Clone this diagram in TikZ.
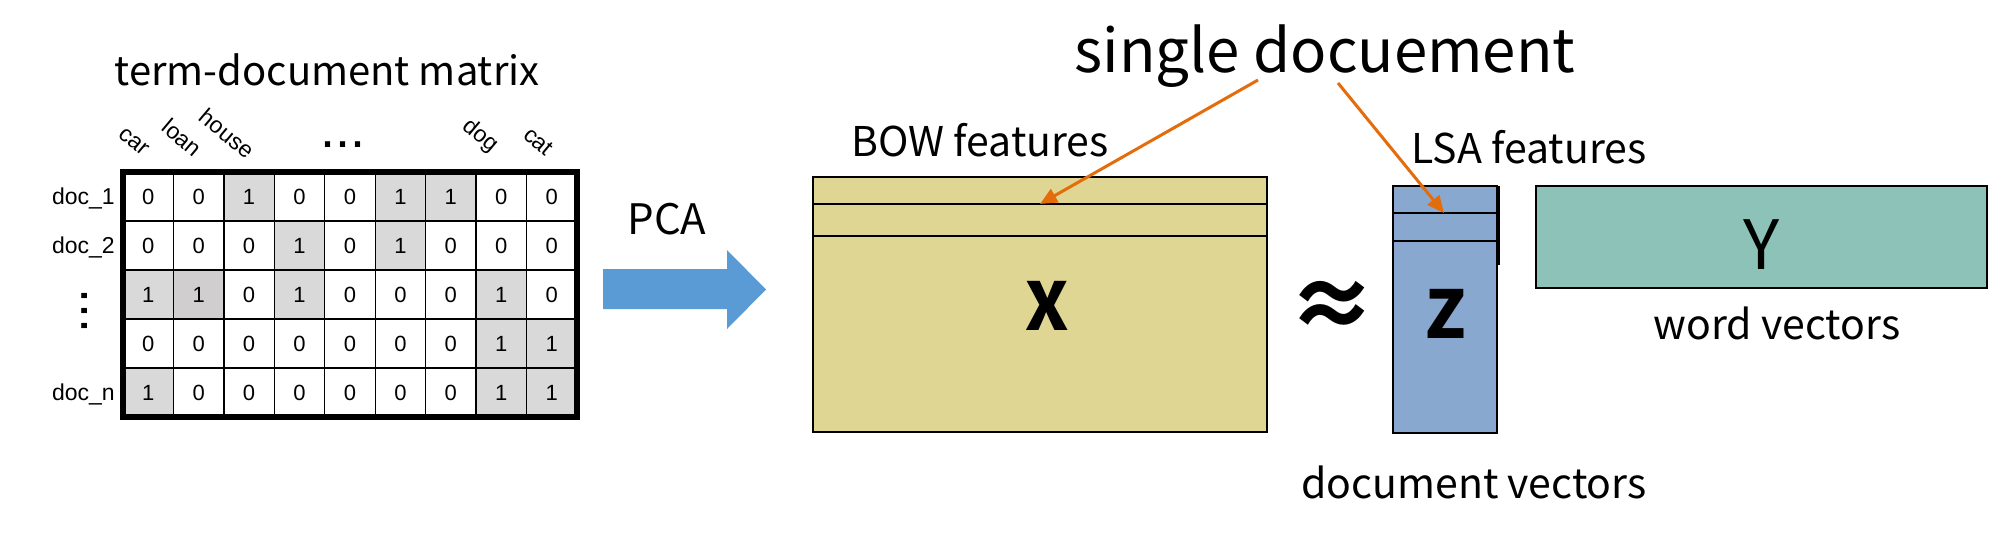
\documentclass[tikz,border=0pt]{standalone}
\usepackage{fontspec}
\setmainfont{Liberation Sans}
\newfontfamily\ssp{Noto Sans CJK JP}
\usetikzlibrary{arrows.meta}
\definecolor{tanfill}{HTML}{DFD693}
\definecolor{zfill}{HTML}{89A8D0}
\definecolor{yfill}{HTML}{8CC2B8}
\definecolor{pcablue}{HTML}{5B9BD5}
\definecolor{orng}{HTML}{E46C0A}
\definecolor{cfw}{HTML}{FFFFFF}
\definecolor{cfg}{HTML}{D9D9D9}
\definecolor{cfd}{HTML}{D0CECE}
\begin{document}
\begin{tikzpicture}[x=1pt,y=-1pt,
  lbl/.style={font=\ssp\fontsize{41}{48}\selectfont, inner sep=0, anchor=base},
  cell/.style={draw=black, line width=1.3pt, minimum width=50.44pt, minimum height=49pt, inner sep=0, font=\fontsize{22}{24}\selectfont},
  rowlbl/.style={font=\fontsize{23}{26}\selectfont, inner sep=0, anchor=base east},
  collbl/.style={font=\fontsize{23}{26}\selectfont, inner sep=0, anchor=base east, rotate=-40},
  blk/.style={draw=black, line width=2.5pt},
  oarrow/.style={draw=orng, line width=3pt, -{Triangle[length=17pt,width=15pt]}}
]
\useasboundingbox (0,0) rectangle (1989,533);

% title
\node[lbl, font=\ssp\fontsize{40}{46}\selectfont] (title) at (327,85) {term-document matrix};

% matrix cells
\foreach \r/\vals in {1/{0/w,0/w,1/g,0/w,0/w,1/g,1/g,0/w,0/w},
                      2/{0/w,0/w,0/w,1/g,0/w,1/g,0/w,0/w,0/w},
                      3/{1/g,1/d,0/w,1/g,0/w,0/w,0/w,1/g,0/w},
                      4/{0/w,0/w,0/w,0/w,0/w,0/w,0/w,1/g,1/g},
                      5/{1/g,0/w,0/w,0/w,0/w,0/w,0/w,1/g,1/g}}{
  \foreach \v/\f [count=\c] in \vals {
    \node[cell, fill=cf\f] (m-\r-\c) at ({123+(\c-0.5)*50.44},{172+(\r-0.5)*49}) {\v};
  }
}
\node[draw=black, line width=5.5pt, minimum width=454pt, minimum height=245pt, inner sep=0] (M) at (350,294.5) {};

% row labels
\node[rowlbl] (r1) at (115,204) {doc\_1};
\node[rowlbl] (r2) at (115,253) {doc\_2};
\node[rowlbl] (rn) at (115,400) {doc\_n};
\node[font=\fontsize{54}{60}\selectfont, inner sep=0, anchor=base, rotate=90] (vd) at (87,311) {...};

% column labels
\node[collbl] (c1) at ({123+0.5*50.44-6},157) {car};
\node[collbl] (c2) at ({123+1.5*50.44-5},158) {loan};
\node[collbl] (c3) at ({123+2.5*50.44-3},160) {house};
\node[collbl] (c8) at ({123+7.5*50.44-10},153) {dog};
\node[collbl] (c9) at ({123+8.5*50.44-6},157) {cat};
\node[font=\fontsize{54}{60}\selectfont, inner sep=0, anchor=base] (hd) at (343,147) {...};

% PCA arrow
\node[lbl, font=\ssp\fontsize{42}{48}\selectfont] (pca) at (667,234) {PCA};
\fill[pcablue] (603,269) -- (727,269) -- (727,250) -- (766,289.5) -- (727,329) -- (727,309) -- (603,309) -- cycle;

% X matrix
\node[lbl] (bow) at (980,156) {BOW features};
\filldraw[blk, fill=tanfill] (813,177) rectangle (1267,432);
\draw[blk] (813,204) -- (1267,204);
\draw[blk] (813,236) -- (1267,236);
\node[lbl, font=\ssp\bfseries\fontsize{66}{70}\selectfont] (X) at (1047,330) {X};

% approx
\node[font=\ssp\bfseries\fontsize{90}{95}\selectfont, inner sep=0] (approx) at (1332,309) {≈};

% Z matrix
\node[lbl] (lsa) at (1529,163) {LSA features};
\filldraw[blk, fill=zfill] (1393,186) rectangle (1497,433);
\draw[blk] (1393,213) -- (1497,213);
\draw[blk] (1393,241) -- (1497,241);
\draw[blk] (1499,186) -- (1499,265);
\node[lbl, font=\ssp\bfseries\fontsize{66}{70}\selectfont] (Z) at (1446,338) {Z};
\node[lbl] (docv) at (1474,498) {document vectors};

% Y matrix
\filldraw[blk, fill=yfill] (1536,186) rectangle (1987,288);
\node[lbl, font=\ssp\fontsize{68}{70}\selectfont] (Y) at (1762,269) {Y};
\node[lbl] (wordv) at (1777,339) {word vectors};

% single document
\node[lbl, font=\ssp\fontsize{60}{66}\selectfont] (sd) at (1325,72) {single docuement};
\coordinate (sd1) at (1258,80);
\coordinate (sd2) at (1338,83);
\coordinate (xrow) at (1040,204);
\coordinate (zrow) at (1444,213);
\draw[oarrow] (sd1) -- (xrow);
\draw[oarrow] (sd2) -- (zrow);
\end{tikzpicture}
\end{document}
